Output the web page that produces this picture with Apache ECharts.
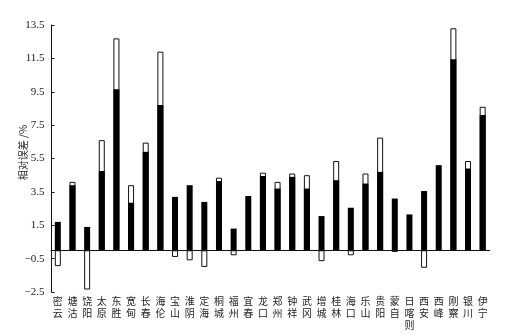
<!DOCTYPE html>
<html>
<head>
<meta charset="utf-8">
<script src="https://cdn.jsdelivr.net/npm/echarts@6/dist/echarts.min.js"></script>
<style>
    html, body { margin: 0; padding: 0; background: #fff; }
    #chart { width: 510px; height: 335px; }
</style>
</head>
<body>
<div id="chart"></div>
<script>
// 站点
const stations = ['密云', '塘沽', '饶阳', '太原', '东胜', '宽甸', '长春', '海伦', '宝山', '淮阴',
    '定海', '桐城', '福州', '宜春', '龙口', '郑州', '钟祥', '武冈', '增城', '桂林',
    '海口', '乐山', '贵阳', '蒙自', '日喀则', '西安', '西峰', '刚察', '银川', '伊宁'];
// 实心柱
const solidValues = [1.7, 3.9, 1.4, 4.75, 9.65, 2.85, 5.9, 8.7, 3.2, 3.9,
    2.9, 4.15, 1.3, 3.25, 4.45, 3.7, 4.4, 3.7, 2.05, 4.2,
    2.55, 4.0, 4.7, 3.1, 2.15, 3.55, 5.1, 11.45, 4.9, 8.1];
// 空心柱
const hollowValues = [-0.95, 4.1, -2.35, 6.6, 12.7, 3.9, 6.45, 11.9, -0.4, -0.6,
    -1.0, 4.35, -0.3, null, 4.65, 4.1, 4.6, 4.5, -0.65, 5.35,
    -0.3, 4.6, 6.75, -0.1, null, -1.05, null, 13.3, 5.35, 8.6];
// y 轴刻度
const yMin = -2.5, yMax = 13.5, yStep = 2;

let myChart = echarts.init(document.getElementById('chart'));
let option = {
    animation: false,
    grid: {
        left: 50.5,
        right: 20,
        top: 25,
        bottom: 43,
        outerBoundsMode: 'none'
    },
    xAxis: {
        type: 'category',
        data: stations,
        axisLine: { show: false },
        axisTick: { show: false },
        axisLabel: {
            interval: 0,
            margin: 3,
            color: '#222',
            fontFamily: 'Noto Sans CJK SC',
            fontSize: 10,
            lineHeight: 12,
            formatter: v => v.split('').join('\n')
        }
    },
    yAxis: {
        type: 'value',
        min: yMin,
        max: yMax,
        interval: yStep,
        offset: -1,
        name: '相对误差 /%',
        nameLocation: 'middle',
        nameGap: 23,
        nameMoveOverlap: false,
        nameTextStyle: {
            color: '#222',
            fontFamily: 'Noto Sans CJK SC',
            fontSize: 10,
            padding: [0, 0, 0, 12]
        },
        splitLine: { show: false },
        axisLine: { show: true, lineStyle: { color: '#111', width: 1 } },
        axisTick: { show: true, inside: true, length: 3, lineStyle: { color: '#111' } },
        axisLabel: {
            color: '#222',
            fontFamily: 'Liberation Serif',
            fontSize: 11,
            margin: 7,
            formatter: v => v.toFixed(1).replace('-', '\u2212')
        }
    },
    series: [{
        name: 'hollow',
        type: 'bar',
        data: hollowValues,
        barWidth: 6,
        itemStyle: {
            color: '#fff',
            borderColor: '#111',
            borderWidth: 1
        }
    },
    {
        name: 'solid',
        type: 'bar',
        data: solidValues,
        barWidth: 6,
        barGap: '-100%',
        itemStyle: {
            color: '#000'
        },
        markLine: {
            silent: true,
            symbol: 'none',
            label: { show: false },
            lineStyle: { color: '#111', type: 'solid', width: 1 },
            data: [{ yAxis: 0 }]
        }
    }]
};
myChart.setOption(option);
</script>
</body>
</html>
